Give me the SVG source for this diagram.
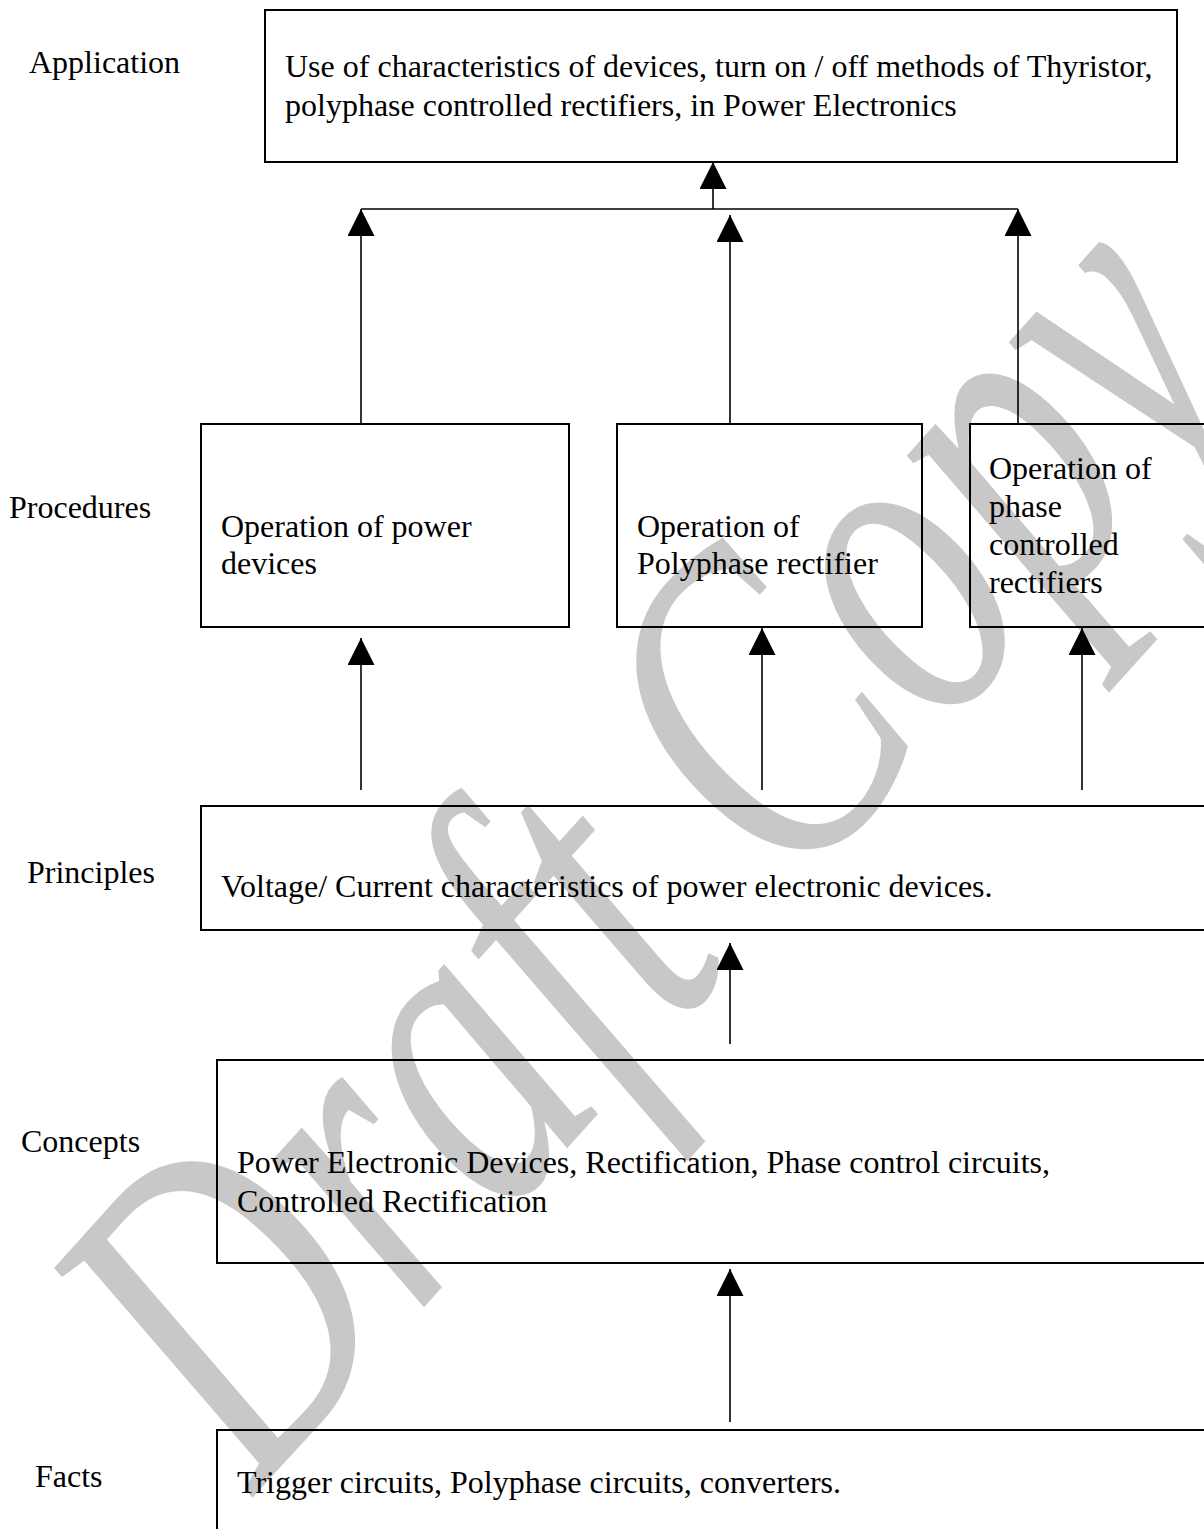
<svg xmlns="http://www.w3.org/2000/svg" width="1204" height="1529" viewBox="0 0 1204 1529">
  <style>
    .lbl { font-family: "Liberation Serif", "Times New Roman", serif; font-size: 32px; fill: #000; }
    .box { fill: none; stroke: #000; stroke-width: 2; }
    .conn { fill: none; stroke: #000; stroke-width: 1.6; }
    .wm { font-family: "Liberation Serif", "Times New Roman", serif; font-style: italic; font-size: 460px; fill: #c8c8c8; }
  </style>
  <defs>
    <marker id="arrow" markerUnits="userSpaceOnUse" markerWidth="28" markerHeight="28" refX="27" refY="13.5" orient="auto">
      <path d="M0,0 L27,13.5 L0,27 z" fill="#000"/>
    </marker>
  </defs>
  <rect x="0" y="0" width="1204" height="1529" fill="#fff"/>

  <g id="watermark">
    <text class="wm" x="0" y="0" transform="translate(255 1495) rotate(-48) scale(0.72 1)">Draft Copy</text>
  </g>

  <g id="levels">
    <text class="lbl" x="29" y="73">Application</text>
    <text class="lbl" x="9" y="518">Procedures</text>
    <text class="lbl" x="27" y="883">Principles</text>
    <text class="lbl" x="21" y="1152">Concepts</text>
    <text class="lbl" x="35" y="1487">Facts</text>
  </g>

  <g id="connectors">
    <line class="conn" x1="713" y1="209" x2="713" y2="162" marker-end="url(#arrow)"/>
    <line class="conn" x1="361" y1="209" x2="1018" y2="209"/>
    <line class="conn" x1="361" y1="424" x2="361" y2="209" marker-end="url(#arrow)"/>
    <line class="conn" x1="730" y1="424" x2="730" y2="215" marker-end="url(#arrow)"/>
    <line class="conn" x1="1018" y1="424" x2="1018" y2="209" marker-end="url(#arrow)"/>
    <line class="conn" x1="361" y1="790" x2="361" y2="638" marker-end="url(#arrow)"/>
    <line class="conn" x1="762" y1="790" x2="762" y2="628" marker-end="url(#arrow)"/>
    <line class="conn" x1="1082" y1="790" x2="1082" y2="628" marker-end="url(#arrow)"/>
    <line class="conn" x1="730" y1="1044" x2="730" y2="943" marker-end="url(#arrow)"/>
    <line class="conn" x1="730" y1="1422" x2="730" y2="1269" marker-end="url(#arrow)"/>
  </g>

  <g id="application">
    <rect class="box" x="265" y="10" width="912" height="152"/>
    <text class="lbl" x="285" y="77">Use of characteristics of devices, turn on / off methods of Thyristor,</text>
    <text class="lbl" x="285" y="116">polyphase controlled rectifiers, in Power Electronics</text>
  </g>

  <g id="proc-power-devices">
    <rect class="box" x="201" y="424" width="368" height="203"/>
    <text class="lbl" x="221" y="537">Operation of power</text>
    <text class="lbl" x="221" y="574">devices</text>
  </g>

  <g id="proc-polyphase">
    <rect class="box" x="617" y="424" width="305" height="203"/>
    <text class="lbl" x="637" y="537">Operation of</text>
    <text class="lbl" x="637" y="574">Polyphase rectifier</text>
  </g>

  <g id="proc-phase-controlled">
    <rect class="box" x="970" y="424" width="260" height="203"/>
    <text class="lbl" x="989" y="479">Operation of</text>
    <text class="lbl" x="989" y="517">phase</text>
    <text class="lbl" x="989" y="555">controlled</text>
    <text class="lbl" x="989" y="593">rectifiers</text>
  </g>

  <g id="principles">
    <rect class="box" x="201" y="806" width="1030" height="124"/>
    <text class="lbl" x="221" y="897">Voltage/ Current characteristics of power electronic devices.</text>
  </g>

  <g id="concepts">
    <rect class="box" x="217" y="1060" width="1014" height="203"/>
    <text class="lbl" x="237" y="1173">Power Electronic Devices, Rectification, Phase control circuits,</text>
    <text class="lbl" x="237" y="1212">Controlled Rectification</text>
  </g>

  <g id="facts">
    <rect class="box" x="217" y="1430" width="1014" height="140"/>
    <text class="lbl" x="237" y="1493">Trigger circuits, Polyphase circuits, converters.</text>
  </g>
</svg>
